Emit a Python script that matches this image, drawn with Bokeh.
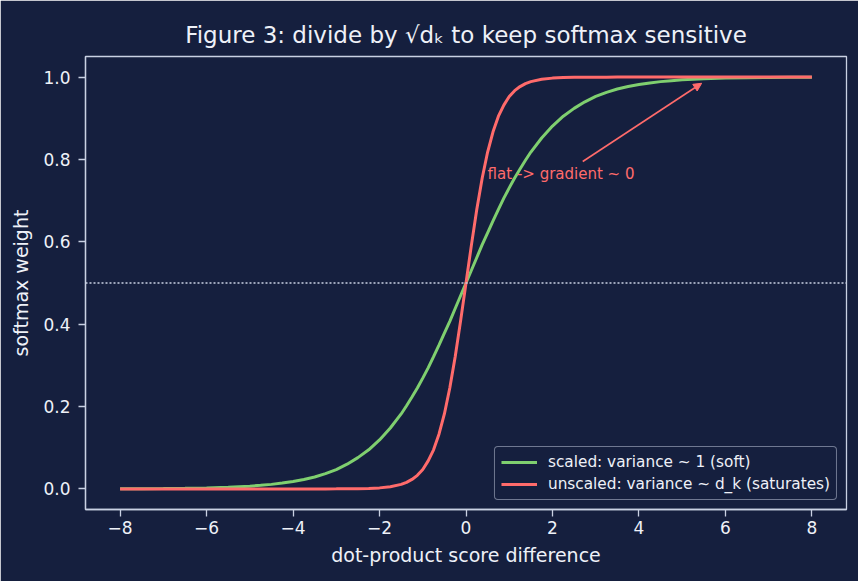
from bokeh.plotting import figure
from bokeh.models import Span, Arrow, NormalHead, Legend, LegendItem, FixedTicker, Label, Range1d
from bokeh.embed import file_html
from bokeh.resources import INLINE

# ---- data ----
score_diff = [-8, -7.5, -7, -6.5, -6, -5.5, -5, -4.75, -4.5, -4.25, -4, -3.75, -3.5, -3.25, -3,
              -2.75, -2.5, -2.25, -2, -1.75, -1.5, -1.375, -1.25, -1.125, -1, -0.875, -0.75,
              -0.625, -0.5, -0.375, -0.25, -0.125, 0,
              0.125, 0.25, 0.375, 0.5, 0.625, 0.75, 0.875, 1, 1.125, 1.25, 1.375, 1.5,
              1.75, 2, 2.25, 2.5, 2.75, 3, 3.25, 3.5, 3.75, 4, 4.25, 4.5, 4.75, 5,
              5.5, 6, 6.5, 7, 7.5, 8]
scaled = [0.0003, 0.0006, 0.0009, 0.0015, 0.0025, 0.0041, 0.0067, 0.0086, 0.011, 0.0141, 0.018,
          0.023, 0.029, 0.037, 0.047, 0.060, 0.076, 0.095, 0.119, 0.148, 0.182, 0.202, 0.223,
          0.245, 0.269, 0.294, 0.321, 0.349, 0.378, 0.407, 0.438, 0.469, 0.5,
          0.531, 0.562, 0.593, 0.622, 0.651, 0.679, 0.706, 0.731, 0.755, 0.777, 0.798, 0.818,
          0.852, 0.881, 0.905, 0.924, 0.940, 0.953, 0.963, 0.971, 0.977, 0.982, 0.9859, 0.989,
          0.9914, 0.9933, 0.9959, 0.9975, 0.9985, 0.9991, 0.9994, 0.9997]
unscaled = [0.0, 0.0, 0.0, 0.0, 0.0, 0.0, 0.0, 0.0, 0.0, 0.0, 0.0, 0.00001, 0.00003, 0.00006,
            0.0001, 0.0003, 0.0006, 0.0012, 0.0025, 0.0052, 0.011, 0.016, 0.023, 0.033, 0.047,
            0.068, 0.095, 0.133, 0.182, 0.245, 0.321, 0.408, 0.5,
            0.592, 0.679, 0.755, 0.818, 0.867, 0.905, 0.932, 0.953, 0.967, 0.977, 0.984, 0.989,
            0.9948, 0.9975, 0.9988, 0.9994, 0.9997, 0.9999, 0.9999, 1.0, 1.0, 1.0, 1.0, 1.0,
            1.0, 1.0, 1.0, 1.0, 1.0, 1.0, 1.0, 1.0]
x_ticks = [-8, -6, -4, -2, 0, 2, 4, 6, 8]
x_tick_labels = ["\u22128", "\u22126", "\u22124", "\u22122", "0", "2", "4", "6", "8"]
y_ticks = [0.0, 0.2, 0.4, 0.6, 0.8, 1.0]
y_tick_labels = ["0.0", "0.2", "0.4", "0.6", "0.8", "1.0"]
series_labels = ["scaled: variance ~ 1 (soft)", "unscaled: variance ~ d_k (saturates)"]
title_text = "Figure 3: divide by \u221ad\u2096 to keep softmax sensitive"
annotation_text = "flat -> gradient ~ 0"

BG = "#151f3e"
FG = "#eef1f8"
SPINE = "#c9d1e3"
GREEN = "#7fcf6f"
RED = "#ff6b6b"
FONT = "DejaVu Sans"

p = figure(width=858, height=581, output_backend="svg", toolbar_location=None,
           x_range=Range1d(-8.8, 8.8), y_range=Range1d(-0.05, 1.05),
           min_border_left=85, min_border_right=12, min_border_top=56, min_border_bottom=72)
p.background_fill_color = BG
p.border_fill_color = BG
p.outline_line_color = SPINE
p.outline_line_width = 1.3
p.grid.visible = False

p.title.text = title_text
p.title.align = "center"
p.title.text_color = FG
p.title.text_font = FONT
p.title.text_font_size = "23px"
p.title.text_font_style = "normal"
p.title.offset = 0
p.title.standoff = 17

for ax in (p.xaxis[0], p.yaxis[0]):
    ax.axis_line_color = SPINE
    ax.axis_line_width = 1.3
    ax.major_tick_line_color = SPINE
    ax.major_tick_line_width = 1.3
    ax.minor_tick_line_color = None
    ax.major_tick_in = 0
    ax.major_tick_out = 7
    ax.major_label_text_color = FG
    ax.major_label_text_font = FONT
    ax.major_label_text_font_size = "17px"
    ax.axis_label_text_color = FG
    ax.axis_label_text_font = FONT
    ax.axis_label_text_font_size = "19px"
    ax.axis_label_text_font_style = "normal"

p.xaxis.major_label_standoff = 4
p.yaxis.major_label_standoff = 8
p.xaxis.axis_label_standoff = 7
p.yaxis.axis_label_standoff = 8

p.xaxis.ticker = FixedTicker(ticks=x_ticks)
p.xaxis.major_label_overrides = {t: l for t, l in zip(x_ticks, x_tick_labels)}
p.yaxis.ticker = FixedTicker(ticks=y_ticks)
p.yaxis.major_label_overrides = {t: l for t, l in zip(y_ticks, y_tick_labels)}
p.xaxis.axis_label = "dot-product score difference"
p.yaxis.axis_label = "softmax weight"

p.add_layout(Span(location=0.5, dimension="width", line_color=SPINE,
                  line_width=1.4, line_dash="2 2"))

g = p.line(score_diff, scaled, line_color=GREEN, line_width=3)
r = p.line(score_diff, unscaled, line_color=RED, line_width=3)

p.add_layout(Arrow(end=NormalHead(size=8, fill_color=RED, line_color=RED),
                   x_start=2.7, y_start=0.795, x_end=5.45, y_end=0.985,
                   line_color=RED, line_width=1.6))
p.add_layout(Label(x=0.5, y=0.75, y_offset=6, text=annotation_text, text_color=RED,
                   text_font=FONT, text_font_size="15px", text_baseline="alphabetic"))

legend = Legend(items=[LegendItem(label=series_labels[0], renderers=[g]),
                       LegendItem(label=series_labels[1], renderers=[r])],
                location="bottom_right")
legend.background_fill_color = BG
legend.background_fill_alpha = 1
legend.border_line_color = SPINE
legend.border_line_width = 1.3
legend.border_radius = 4
legend.label_text_color = FG
legend.label_text_font = FONT
legend.label_text_font_size = "15.3px"
legend.glyph_width = 36
legend.glyph_height = 18
legend.label_height = 18
legend.label_standoff = 11
legend.spacing = 4
legend.padding = 6
legend.margin = 9
p.add_layout(legend)

open("out.html", "w").write(file_html(p, INLINE))
